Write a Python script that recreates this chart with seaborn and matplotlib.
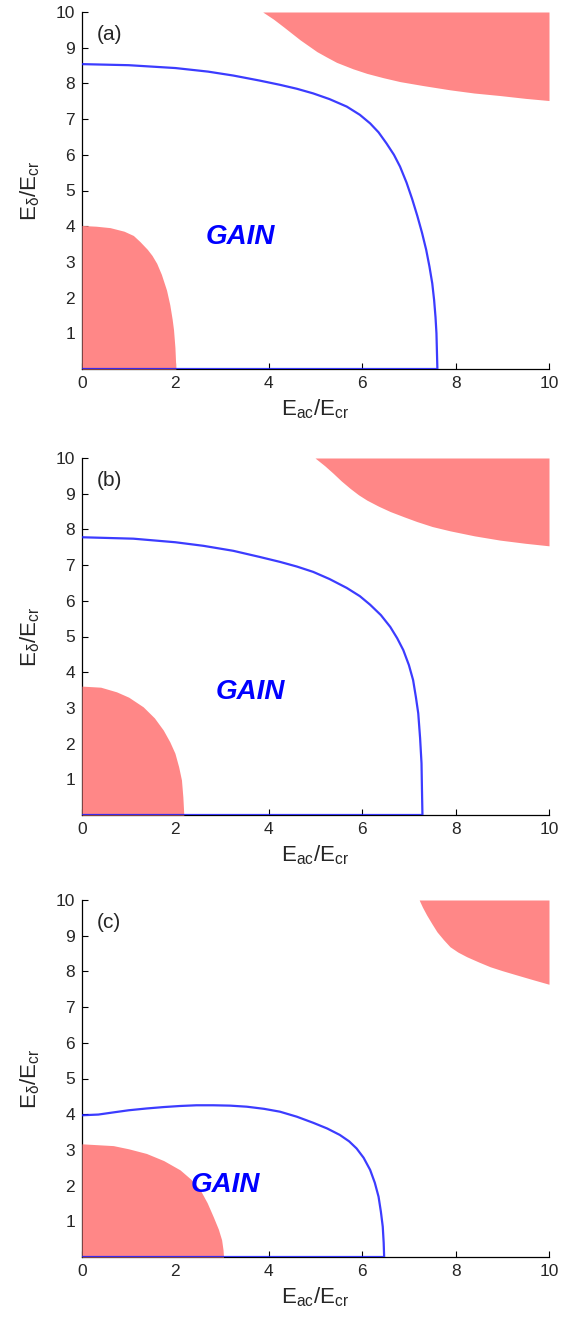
import numpy as np
import matplotlib
matplotlib.use("Agg")
import matplotlib.pyplot as plt
import seaborn as sns

# ---------------- data ----------------
# Panel (a)
a_low_x = [0.0, 0.3, 0.6, 0.9, 1.1, 1.24, 1.4, 1.5, 1.6, 1.7, 1.81, 1.88, 1.93, 1.96, 1.99, 2.01]
a_low_y = [4.02, 4.0, 3.96, 3.86, 3.74, 3.57, 3.35, 3.18, 2.96, 2.65, 2.21, 1.8, 1.4, 1.1, 0.6, 0.0]
a_up_x = [3.87, 4.1, 4.31, 4.67, 5.03, 5.25, 5.45, 5.8, 6.10, 6.45, 6.81, 7.3, 7.88, 8.4, 8.95, 9.5, 10.0]
a_up_y = [10.0, 9.8, 9.59, 9.22, 8.89, 8.73, 8.59, 8.41, 8.28, 8.16, 8.05, 7.94, 7.82, 7.73, 7.66, 7.58, 7.52]
a_gain_x = [0.0, 1.0, 2.0, 2.7, 3.24, 3.8, 4.24, 4.6, 4.95, 5.3, 5.67, 5.95, 6.17, 6.35, 6.52,
            6.68, 6.81, 6.95, 7.07, 7.18, 7.28, 7.37, 7.44, 7.50, 7.54, 7.57, 7.59, 7.60, 7.61]
a_gain_y = [8.54, 8.51, 8.43, 8.33, 8.22, 8.08, 7.96, 7.85, 7.72, 7.56, 7.35, 7.12, 6.88, 6.63, 6.32,
            6.0, 5.67, 5.22, 4.76, 4.29, 3.82, 3.34, 2.87, 2.4, 1.93, 1.45, 1.0, 0.5, 0.0]

# Panel (b)
b_low_x = [0.0, 0.4, 0.74, 1.0, 1.31, 1.55, 1.74, 1.88, 1.99, 2.07, 2.13, 2.16, 2.18]
b_low_y = [3.61, 3.58, 3.45, 3.3, 3.03, 2.72, 2.38, 2.05, 1.73, 1.35, 0.98, 0.5, 0.0]
b_up_x = [4.99, 5.2, 5.38, 5.55, 5.74, 5.92, 6.10, 6.35, 6.60, 6.9, 7.17, 7.5, 7.88, 8.4, 8.95, 9.5, 10.0]
b_up_y = [10.0, 9.78, 9.57, 9.36, 9.15, 8.97, 8.82, 8.65, 8.50, 8.35, 8.22, 8.08, 7.96, 7.82, 7.70, 7.61, 7.54]
b_gain_x = [0.0, 1.1, 2.0, 2.6, 3.24, 3.8, 4.24, 4.6, 4.95, 5.3, 5.67, 5.95, 6.17, 6.4, 6.60,
            6.75, 6.88, 7.0, 7.09, 7.15, 7.20, 7.24, 7.27, 7.28, 7.29]
b_gain_y = [7.78, 7.74, 7.64, 7.54, 7.40, 7.23, 7.09, 6.96, 6.81, 6.61, 6.36, 6.13, 5.89, 5.6, 5.27,
            4.95, 4.62, 4.2, 3.78, 3.3, 2.85, 2.15, 1.45, 0.7, 0.0]

# Panel (c)
c_low_x = [0.0, 0.67, 1.0, 1.38, 1.75, 2.10, 2.33, 2.53, 2.68, 2.81, 2.92, 2.99, 3.02, 3.03]
c_low_y = [3.17, 3.12, 3.03, 2.90, 2.70, 2.44, 2.18, 1.88, 1.52, 1.13, 0.78, 0.48, 0.2, 0.0]
c_up_x = [7.22, 7.29, 7.38, 7.49, 7.60, 7.74, 7.88, 8.05, 8.24, 8.5, 8.74, 9.0, 9.31, 9.65, 10.0]
c_up_y = [10.0, 9.8, 9.58, 9.34, 9.11, 8.89, 8.69, 8.54, 8.41, 8.26, 8.13, 8.02, 7.90, 7.77, 7.64]
c_gain_x = [0.0, 0.35, 0.67, 1.0, 1.38, 1.75, 2.10, 2.45, 2.81, 3.17, 3.53, 3.9, 4.24, 4.6, 4.95,
            5.25, 5.52, 5.72, 5.88, 6.03, 6.17, 6.27, 6.35, 6.40, 6.44, 6.46, 6.47]
c_gain_y = [3.97, 3.99, 4.05, 4.11, 4.16, 4.20, 4.23, 4.25, 4.25, 4.24, 4.21, 4.15, 4.07, 3.93, 3.76,
            3.6, 3.42, 3.24, 3.04, 2.78, 2.44, 2.08, 1.69, 1.27, 0.85, 0.4, 0.0]

panel_labels = ["(a)", "(b)", "(c)"]
gain_pos_x = [3.38, 3.60, 3.06]
gain_pos_y = [3.71, 3.45, 2.02]

x_ticks = [0, 2, 4, 6, 8, 10]
y_ticks = [1, 2, 3, 4, 5, 6, 7, 8, 9, 10]

panels = [
    (a_low_x, a_low_y, a_up_x, a_up_y, a_gain_x, a_gain_y),
    (b_low_x, b_low_y, b_up_x, b_up_y, b_gain_x, b_gain_y),
    (c_low_x, c_low_y, c_up_x, c_up_y, c_gain_x, c_gain_y),
]

# ---------------- style ----------------
sns.set_style("ticks")
plt.rcParams["font.family"] = ["Liberation Sans", "DejaVu Sans"]
plt.rcParams["mathtext.fontset"] = "custom"
plt.rcParams["mathtext.rm"] = "Liberation Sans"
plt.rcParams["mathtext.it"] = "Liberation Sans:italic"
plt.rcParams["xtick.direction"] = "in"
plt.rcParams["ytick.direction"] = "in"

PINK = "#ff8787"
BLUE = "#1a1aff"
TXT = "#262626"

fig = plt.figure(figsize=(5.71, 13.17), dpi=100)
bottoms = [1 - 369 / 1317, 1 - 815 / 1317, 1 - 1257 / 1317]
left = 82 / 571
width = 467 / 571
height = 357 / 1317

for i, (lx, ly, ux, uy, gx, gy) in enumerate(panels):
    ax = fig.add_axes([left, bottoms[i], width, height])
    ax.fill_between(lx, ly, 0, color=PINK, linewidth=0, zorder=3)
    ax.fill_between(ux, uy, 10, color=PINK, linewidth=0, zorder=3)
    px = list(gx) + [0.0]
    py = list(gy) + [0.0]
    sns.lineplot(x=px, y=py, sort=False, estimator=None, ax=ax,
                 color=BLUE, linewidth=1.6, alpha=0.85, zorder=4)
    ax.set_xlim(0, 10)
    ax.set_ylim(0, 10)
    ax.set_xticks(x_ticks)
    ax.set_yticks(y_ticks)
    ax.tick_params(axis="both", length=4, width=0.8, labelsize=12.5,
                   labelcolor=TXT, color="black", pad=5)
    sns.despine(ax=ax)
    for s in ["left", "bottom"]:
        ax.spines[s].set_linewidth(0.9)
        ax.spines[s].set_color("black")
    ax.set_xlabel(r"$\mathrm{E_{ac}/E_{cr}}$", fontsize=16, color=TXT)
    ax.set_ylabel(r"$\mathrm{E_{\delta}/E_{cr}}$", fontsize=16, color=TXT)
    ax.xaxis.set_label_coords(0.5, -0.08)
    ax.yaxis.set_label_coords(-0.085, 0.5)
    ax.text(0.32, 9.38, panel_labels[i], fontsize=15, color=TXT,
            ha="left", va="center", zorder=5)
    ax.text(gain_pos_x[i], gain_pos_y[i], "GAIN", fontsize=20, color="#0000ff",
            fontweight="bold", fontstyle="italic", ha="center", va="center", zorder=5)

fig.savefig("out.png", dpi=100, facecolor="white")
